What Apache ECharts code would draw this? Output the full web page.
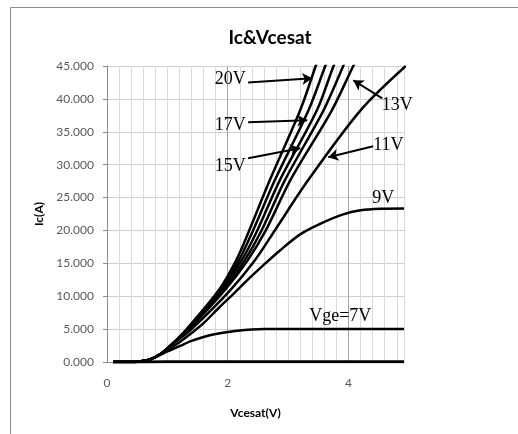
<!DOCTYPE html>
<html>
<head>
<meta charset="utf-8">
<script src="https://cdn.jsdelivr.net/npm/echarts@6/dist/echarts.min.js"></script>
<style>
  html, body { margin: 0; padding: 0; background: #fff; }
  #chart { width: 518px; height: 434px; }
</style>
</head>
<body>
<div id="chart"></div>
<script>
// Ic vs Vcesat, one curve per gate voltage, [Vce, Ic] pairs
const icFloor = [[0.1, 0], [1, 0.02], [2, 0.05], [3, 0.05], [4.92, 0.05]]
const ic7 = [[0.1, 0], [0.3, 0], [0.5, 0.05], [0.7, 0.35], [0.9, 1.15], [1.0, 1.6], [1.2, 2.4], [1.4, 3.2], [1.6, 3.8], [1.8, 4.25], [2.0, 4.55], [2.2, 4.8], [2.4, 4.93], [2.6, 5.0], [3.0, 5.02], [4.92, 5.02]]
const ic9 = [[0.1, 0], [0.3, 0], [0.5, 0.05], [0.7, 0.35], [0.9, 1.25], [1.0, 1.8], [1.2, 3.0], [1.4, 4.4], [1.6, 5.9], [1.87, 8.4], [2.1, 10.4], [2.32, 12.4], [2.6, 14.8], [2.87, 17.0], [3.2, 19.4], [3.53, 21.0], [3.9, 22.4], [4.2, 23.06], [4.53, 23.3], [4.92, 23.35]]
const ic11 = [[0.1, 0], [0.3, 0], [0.5, 0.05], [0.7, 0.35], [0.9, 1.3], [1.1, 2.8], [1.4, 5.0], [2.04, 10.9], [2.45, 15.46], [2.78, 20], [3.33, 27.62], [4.2, 38.26], [4.95, 45]]
const ic13 = [[0.1, 0], [0.3, 0], [0.5, 0.05], [0.7, 0.35], [0.9, 1.3], [1.1, 2.9], [1.36, 5.0], [1.95, 10.9], [2.33, 15.46], [2.63, 20], [3.036, 27.62], [3.725, 38.26], [4.08, 45], [4.2, 47]]
const ic14 = [[0.1, 0], [0.3, 0], [0.5, 0.05], [0.7, 0.35], [0.9, 1.3], [1.1, 2.9], [1.35, 5.0], [1.92, 10.9], [2.28, 15.46], [2.56, 20], [2.946, 27.62], [3.587, 38.26], [3.913, 45], [4.0, 47]]
const ic15 = [[0.1, 0], [0.3, 0], [0.5, 0.05], [0.7, 0.35], [0.9, 1.3], [1.1, 2.9], [1.34, 5.0], [1.89, 10.9], [2.23, 15.46], [2.49, 20], [2.862, 27.62], [3.477, 38.26], [3.753, 45], [3.85, 47]]
const ic17 = [[0.1, 0], [0.3, 0], [0.5, 0.05], [0.7, 0.35], [0.9, 1.3], [1.1, 2.9], [1.33, 5.0], [1.87, 10.9], [2.185, 15.46], [2.42, 20], [2.779, 27.62], [3.338, 38.26], [3.615, 45], [3.7, 47]]
const ic20 = [[0.1, 0], [0.3, 0], [0.5, 0.05], [0.7, 0.35], [0.9, 1.3], [1.1, 2.9], [1.32, 5.0], [1.85, 10.9], [2.14, 15.46], [2.356, 20], [2.696, 27.62], [3.2, 38.26], [3.457, 45], [3.53, 47]]

// callout texts and their arrows, in data coordinates
const noteTexts = ['20V', '17V', '15V', '13V', '11V', '9V', 'Vge=7V']
const notePos = [[2.04, 42.97], [2.04, 36.0], [2.04, 29.75], [4.81, 39.02], [4.66, 32.94], [4.577, 24.89], [3.864, 6.95]]
const arrowFrom = [[2.338, 42.5], [2.338, 36.43], [2.338, 30.97], [4.56, 40.09], [4.41, 32.79]]
const arrowTo = [[3.40, 43.13], [3.317, 36.74], [3.20, 32.49], [4.08, 42.83], [3.665, 31.12]]

const chart = echarts.init(document.getElementById('chart'))

const curves = [
  ['floor', icFloor, 3],
  ['7V', ic7, 2.5],
  ['9V', ic9, 2.5],
  ['11V', ic11, 2.5],
  ['13V', ic13, 2.5],
  ['14V', ic14, 2.5],
  ['15V', ic15, 2.5],
  ['17V', ic17, 2.5],
  ['20V', ic20, 2.5]
]

const series = curves.map(([name, data, w]) => ({
  name: name,
  type: 'line',
  data: data,
  smooth: 0.3,
  showSymbol: false,
  symbol: 'none',
  lineStyle: { color: '#000', width: w },
  z: 3
}))

// annotations ride on the floor series
series[0].markPoint = {
  symbol: 'circle',
  symbolSize: 1,
  itemStyle: { color: 'rgba(0,0,0,0)' },
  label: {
    show: true,
    position: 'inside',
    color: '#000',
    fontFamily: 'Liberation Serif',
    fontSize: 18,
    formatter: p => p.name
  },
  data: noteTexts.map((t, i) => ({ name: t, coord: notePos[i] }))
}
series[0].markLine = {
  silent: true,
  symbol: ['none', 'arrow'],
  symbolSize: [9, 10],
  label: { show: false },
  lineStyle: { color: '#000', width: 2, type: 'solid' },
  data: arrowFrom.map((a, i) => [{ coord: a }, { coord: arrowTo[i] }])
}

const minorColors = ['#a6a6a6'].concat(Array(9).fill('#dadada'))

const option = {
  animation: false,
  backgroundColor: '#fff',
  graphic: [{
    type: 'rect',
    shape: { x: 10.5, y: 7.5, width: 700, height: 600 },
    style: { fill: 'none', stroke: '#8c8c8c', lineWidth: 1 },
    silent: true
  }],
  title: {
    text: 'Ic&Vcesat',
    left: 265,
    top: 23,
    textAlign: 'center',
    textStyle: { fontFamily: 'Lato', fontWeight: 'bold', fontSize: 19, color: '#000' }
  },
  grid: { left: 107, right: 114, top: 66, bottom: 72 },
  xAxis: {
    type: 'value',
    min: 0,
    max: 4.92,
    interval: 0.2,
    name: 'Vcesat(V)',
    nameLocation: 'middle',
    nameGap: 45,
    nameTextStyle: { fontFamily: 'Lato', fontWeight: 'bold', fontSize: 12, color: '#000' },
    axisLine: { show: true, lineStyle: { color: '#8c8c8c' } },
    axisTick: { show: false },
    axisLabel: {
      color: '#595959',
      fontFamily: 'Lato',
      fontSize: 12,
      margin: 15,
      showMaxLabel: false,
      formatter: v => (Math.abs(v / 2 - Math.round(v / 2)) < 1e-6 ? String(Math.round(v)) : '')
    },
    splitLine: { show: true, lineStyle: { color: minorColors, width: 1 } }
  },
  yAxis: {
    type: 'value',
    min: 0,
    max: 45,
    interval: 5,
    name: 'Ic(A)',
    nameLocation: 'middle',
    nameGap: 62,
    nameTextStyle: { fontFamily: 'Lato', fontWeight: 'bold', fontSize: 12, color: '#000' },
    axisLine: { show: true, lineStyle: { color: '#8c8c8c' } },
    axisTick: { show: true, length: 4, lineStyle: { color: '#8c8c8c' } },
    axisLabel: {
      color: '#595959',
      fontFamily: 'Lato',
      fontSize: 12,
      margin: 13,
      formatter: v => v.toFixed(3)
    },
    splitLine: { show: true, lineStyle: { color: '#cfcfcf', width: 1 } }
  },
  series: series
}

chart.setOption(option)
</script>
</body>
</html>
